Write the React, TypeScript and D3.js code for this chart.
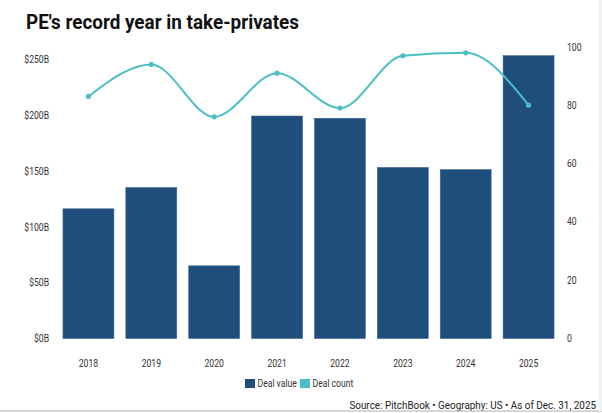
import React from "react";
import * as d3 from "d3";

const years = ["2018", "2019", "2020", "2021", "2022", "2023", "2024", "2025"];
const dealValue = [116, 135, 65, 199, 197, 153, 151, 253];
const dealCount = [83, 94, 76, 91, 79, 97, 98, 80];
const leftTicks = [0, 50, 100, 150, 200, 250];
const rightTicks = [0, 20, 40, 60, 80, 100];
const title = "PE's record year in take-privates";
const source = "Source: PitchBook \u2022 Geography: US \u2022 As of Dec. 31, 2025";
const legendItems = ["Deal value", "Deal count"];

const W = 602;
const H = 413;
const BAR = "#1f4e7d";
const LINE = "#4bbfc4";
const SX = 0.82;
const FONT = "Roboto, 'Noto Sans', sans-serif";

function T(props: any) {
  const { x, y, anchor = "start", size = 10.5, weight = 400, fill = "#333", sx = SX, children } = props;
  return (
    <text
      transform={`translate(${x},${y}) scale(${sx},1)`}
      textAnchor={anchor}
      dominantBaseline="central"
      fontFamily={FONT}
      fontSize={size}
      fontWeight={weight}
      fill={fill}
    >
      {children}
    </text>
  );
}

export default function App() {
  const x = d3.scaleBand<string>().domain(years).range([57, 560]).paddingInner(0.19).paddingOuter(0.095);
  const yL = d3.scaleLinear().domain([0, 250]).range([338.5, 59]);
  const yR = d3.scaleLinear().domain([0, 100]).range([338, 47]);
  const cx = (d: string) => (x(d) as number) + x.bandwidth() / 2;

  const line = d3
    .line<number>()
    .x((_, i) => cx(years[i]))
    .y((d) => yR(d))
    .curve(d3.curveMonotoneX);

  return (
    <svg width={W} height={H} style={{ position: "absolute", left: 0, top: 0, background: "#fff" }}>
      <rect x={0} y={0} width={W} height={H} fill="#fff" />
      <text
        transform={`translate(26,28.5) scale(0.9,1)`}
        fontFamily={FONT}
        fontSize={21}
        fontWeight={700}
        fill="#111"
      >
        {title}
      </text>

      {leftTicks.map((t) => (
        <T key={"l" + t} x={49} y={yL(t)} anchor="end">
          {`$${t}B`}
        </T>
      ))}
      {rightTicks.map((t) => (
        <T key={"r" + t} x={567} y={yR(t)}>
          {t}
        </T>
      ))}

      {dealValue.map((v, i) => (
        <rect
          key={years[i]}
          x={x(years[i])}
          y={yL(v)}
          width={x.bandwidth()}
          height={yL(0) - yL(v)}
          fill={BAR}
          stroke="#3d6a96"
          strokeWidth={0.6}
        />
      ))}

      <path d={line(dealCount) || ""} fill="none" stroke={LINE} strokeWidth={2} />
      {dealCount.map((v, i) => (
        <circle key={"p" + i} cx={cx(years[i])} cy={yR(v)} r={2.6} fill={LINE} />
      ))}

      {years.map((yr) => (
        <T key={"x" + yr} x={cx(yr)} y={363} anchor="middle">
          {yr}
        </T>
      ))}

      <rect x={245} y={379} width={10} height={9} fill={BAR} />
      <T x={257.5} y={383.5}>{legendItems[0]}</T>
      <rect x={300} y={379} width={10} height={9} fill={LINE} />
      <T x={312.5} y={383.5}>{legendItems[1]}</T>

      <T x={596} y={405.5} anchor="end" size={11.5} fill="#222" sx={0.86}>
        {source}
      </T>

      <line x1={0} x2={W} y1={411} y2={411} stroke="#b0b0b0" strokeWidth={1.2} />
      <rect x={599} y={0} width={3} height={411} fill="#f1f1f1" />
    </svg>
  );
}
